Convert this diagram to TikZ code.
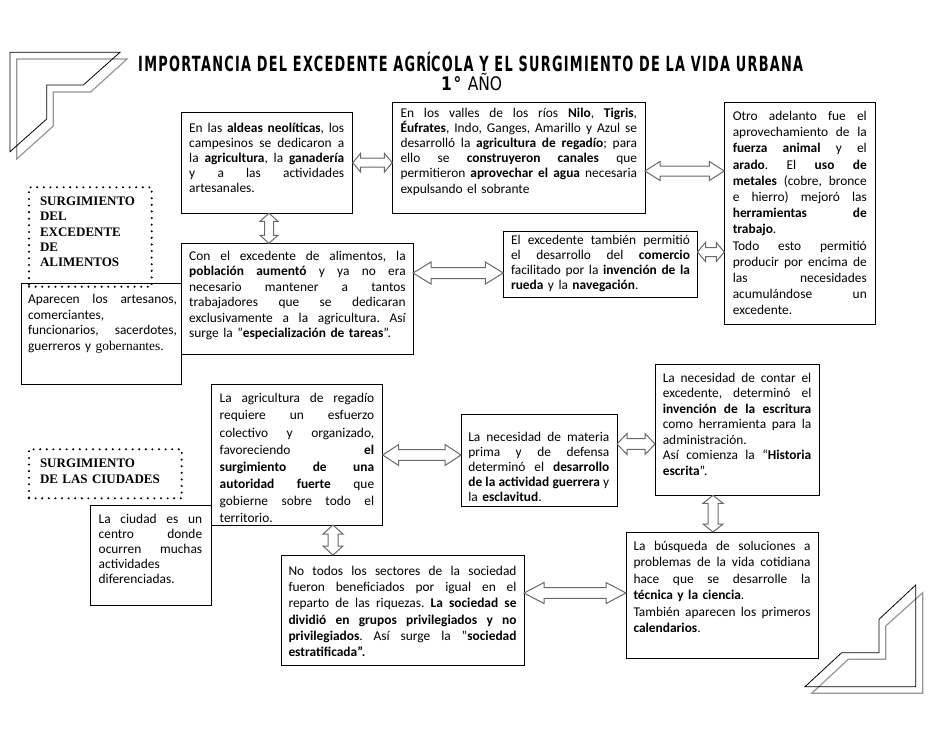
\documentclass[tikz,border=0pt]{standalone}
\usepackage{fontspec}
\setmainfont{Carlito}
\newfontfamily\tnrfont{Liberation Serif}
\newfontfamily\ttlfont[LetterSpace=10]{DejaVu Sans}
\usetikzlibrary{calc}
\frenchspacing
\definecolor{arrgray}{RGB}{105,105,105}
\definecolor{cornergray}{RGB}{150,150,150}
\newlength\jlw
\newcommand\jline[1]{\leavevmode\hbox to \jlw{\spaceskip=\fontdimen2\font plus 1fil minus .08em\relax #1}\\}
\tikzset{
  box/.style={draw, line width=1pt, inner sep=0pt, outer sep=0pt, fill=white, anchor=north west},
  dotbox/.style={draw, line width=2.3pt, dash pattern=on 0pt off 6.6pt, line cap=round, inner sep=0pt, outer sep=0pt, anchor=north west},
  txt/.style={inner sep=0pt, outer sep=0pt, anchor=base west, text width=#1, execute at begin node={\setlength{\jlw}{#1}}},
  captxt/.style={inner sep=0pt, outer sep=0pt, anchor=base west, text width=130pt},
  dbl/.style n args={3}{draw=arrgray, line width=1pt, fill=white, line join=miter, to path={
    -- ($(\tikztostart)!#1!(\tikztotarget)!#2!90:(\tikztotarget)$)
    -- ($(\tikztostart)!#1!(\tikztotarget)!#3!90:(\tikztotarget)$)
    -- ($(\tikztotarget)!#1!(\tikztostart)!#3!-90:(\tikztostart)$)
    -- ($(\tikztotarget)!#1!(\tikztostart)!#2!-90:(\tikztostart)$)
    -- (\tikztotarget)
    -- ($(\tikztotarget)!#1!(\tikztostart)!#2!90:(\tikztostart)$)
    -- ($(\tikztotarget)!#1!(\tikztostart)!#3!90:(\tikztostart)$)
    -- ($(\tikztostart)!#1!(\tikztotarget)!#3!-90:(\tikztotarget)$)
    -- ($(\tikztostart)!#1!(\tikztotarget)!#2!-90:(\tikztotarget)$)
    -- cycle}},
  corner/.style={draw, line width=0.8pt},
  corner2/.style={draw=cornergray, line width=1.2pt}
}
\begin{document}
\begin{tikzpicture}[x=1pt,y=-1pt]
\useasboundingbox (0,0) rectangle (942,728);
\fill[white] (0,0) rectangle (942,728);

% corner decorations
\draw[corner2] (16.7,59) -- (127,59) -- (90.7,92) -- (53.3,92) -- (53.3,126) -- (16.7,159) -- cycle;
\draw[corner] (10,52.3) -- (120,52.3) -- (83.3,85) -- (46.7,85) -- (46.7,119) -- (10,151.7) -- cycle;
\draw[corner2] (922.7,592.7) -- (885.7,626) -- (885.7,659.3) -- (848.3,659.3) -- (811.7,693.3) -- (922.7,693.3) -- cycle;
\draw[corner] (915.7,585) -- (879,619.3) -- (879,652.7) -- (841.7,652.7) -- (805,686.7) -- (915.7,686.7) -- cycle;

% title
\node[inner sep=0pt, anchor=base west] (title) at (138,71) {\resizebox{665pt}{15.5pt}{\ttlfont\bfseries IMPORTANCIA DEL EXCEDENTE AGR\smash{Í}COLA Y EL SURGIMIENTO DE LA VIDA URBANA}};
\node[inner sep=0pt, anchor=base west] (year) at (441,90) {\resizebox{61pt}{14pt}{\ttlfont{\bfseries 1°} A\smash{Ñ}O}};

% boxes
\node[box, minimum width=171pt, minimum height=100.6pt] (b1) at (181.7,112.7) {};
\node[box, minimum width=252.7pt, minimum height=111pt] (b2) at (392.3,102.3) {};
\node[box, minimum width=194.2pt, minimum height=66.5pt] (b3) at (503.3,231) {};
\node[box, minimum width=151.4pt, minimum height=221.3pt] (b4) at (724.3,102.7) {};
\node[box, minimum width=231.3pt, minimum height=110.7pt] (b5) at (181.7,243.3) {};
\node[box, minimum width=160.7pt, minimum height=100.7pt] (b6) at (21,283.3) {};
\node[box, minimum width=121pt, minimum height=100pt] (b8) at (90.7,505) {};
\node[box, minimum width=171pt, minimum height=141pt] (b7) at (211.7,384) {};
\node[box, minimum width=156pt, minimum height=92pt] (b9) at (461,414) {};
\node[box, minimum width=164.3pt, minimum height=131pt] (b10) at (655,364.3) {};
\node[box, minimum width=192pt, minimum height=126pt] (b11) at (626,532) {};
\node[box, minimum width=243pt, minimum height=110pt] (b12) at (281,555) {};

% dotted caption boxes
\node[dotbox, minimum width=122.7pt, minimum height=99.4pt] (d1) at (29,187.3) {};
\node[dotbox, minimum width=152.7pt, minimum height=49pt] (d2) at (29,449.3) {};
\node[captxt, font={\tnrfont\bfseries\fontsize{13}{15.4}\selectfont}] (d1t) at (40,205.3) {SURGIMIENTO\\DEL\\EXCEDENTE\\DE\\ALIMENTOS};
\node[captxt, font={\tnrfont\bfseries\fontsize{13}{16}\selectfont}] (d2t) at (40,467.6) {SURGIMIENTO\\DE LAS CIUDADES};

% texts
\node[txt=155pt, font=\fontsize{13.4}{15.2}\selectfont] (t1) at (189.2,132) {\jline{En las \textbf{aldeas neolíticas}, los}\jline{campesinos se dedicaron a}\jline{la \textbf{agricultura}, la \textbf{ganadería}}\jline{y a las actividades}artesanales.};
\node[txt=236.5pt, font=\fontsize{13.4}{15.1}\selectfont] (t2) at (400.5,117.5) {\jline{En los valles de los ríos \textbf{Nilo}, \textbf{Tigris},}\jline{\textbf{Éufrates}, Indo, Ganges, Amarillo y Azul se}\jline{desarrolló la \textbf{agricultura de regadío}; para}\jline{ello se \textbf{construyeron canales} que}\jline{permitieron \textbf{aprovechar el agua} necesaria}expulsando el sobrante};
\node[txt=179pt, font=\fontsize{13.4}{15.1}\selectfont] (t3) at (511,244.5) {\jline{El excedente también permitió}\jline{el desarrollo del \textbf{comercio}}\jline{facilitado por la \textbf{invención de la}}\textbf{rueda} y la \textbf{navegación}.};
\node[txt=134pt, font=\fontsize{13.4}{16.2}\selectfont] (t4) at (732.8,120.5) {\jline{Otro adelanto fue el}\jline{aprovechamiento de la}\jline{\textbf{fuerza animal} y el}\jline{\textbf{arado}. El \textbf{uso de}}\jline{\textbf{metales} (cobre, bronce}\jline{e hierro) mejoró las}\jline{\textbf{herramientas de}}\textbf{trabajo}.\\\jline{Todo esto permitió}\jline{producir por encima de}\jline{las necesidades}\jline{acumulándose un}excedente.};
\node[txt=216.5pt, font=\fontsize{13.4}{15.4}\selectfont] (t5) at (189.2,260.5) {\jline{Con el excedente de alimentos, la}\jline{\textbf{población aumentó} y ya no era}\jline{necesario mantener a tantos}\jline{trabajadores que se dedicaran}\jline{exclusivamente a la agricultura. Así}surge la "\textbf{especialización de tareas}".};
\node[txt=149pt, font=\fontsize{13.4}{15.4}\selectfont] (t6) at (28,303.8) {\jline{Aparecen los artesanos,}comerciantes,\\\jline{funcionarios, sacerdotes,}guerreros y {\tnrfont gobernantes.}};
\node[txt=154.5pt, font=\fontsize{13.4}{17.1}\selectfont] (t7) at (219.7,402.8) {\jline{La agricultura de regadío}\jline{requiere un esfuerzo}\jline{colectivo y organizado,}\jline{favoreciendo \textbf{el}}\jline{\textbf{surgimiento de una}}\jline{\textbf{autoridad fuerte} que}\jline{gobierne sobre todo el}territorio.};
\node[txt=103.5pt, font=\fontsize{13.4}{15}\selectfont] (t8) at (98.7,523.8) {\jline{La ciudad es un}\jline{centro donde}\jline{ocurren muchas}actividades\\diferenciadas.};
\node[txt=141pt, font=\fontsize{13.4}{15}\selectfont] (t9) at (468.3,441.2) {\jline{La necesidad de materia}\jline{prima y de defensa}\jline{determinó el \textbf{desarrollo}}\jline{\textbf{de la actividad guerrera} y}la \textbf{esclavitud}.};
\node[txt=148.5pt, font=\fontsize{13.4}{15.5}\selectfont] (t10) at (662.8,382.2) {\jline{La necesidad de contar el}\jline{excedente, determinó el}\jline{\textbf{invención de la escritura}}\jline{como herramienta para la}administración.\\\jline{Así comienza la “\textbf{Historia}}\textbf{escrita}".};
\node[txt=177pt, font=\fontsize{13.4}{16.4}\selectfont] (t11) at (633.5,550.4) {\jline{La búsqueda de soluciones a}\jline{problemas de la vida cotidiana}\jline{hace que se desarrolle la}\textbf{técnica y la ciencia}.\\\jline{También aparecen los primeros}\textbf{calendarios}.};
\node[txt=228pt, font=\fontsize{13.4}{16.2}\selectfont] (t12) at (288.5,575.5) {\jline{No todos los sectores de la sociedad}\jline{fueron beneficiados por igual en el}\jline{reparto de las riquezas. \textbf{La sociedad se}}\jline{\textbf{dividió en grupos privilegiados y no}}\jline{\textbf{privilegiados}. Así surge la "\textbf{sociedad}}\textbf{estratificada".}};

% block arrows
\draw[dbl={8pt}{9.5pt}{4.5pt}] (b1.east |- 0,162.7) to (b2.west |- 0,162.7);
\draw[dbl={8pt}{9pt}{4.5pt}] (269,0 |- b1.south) to (269,0 |- b5.north);
\draw[dbl={18pt}{11pt}{5.5pt}] (b5.east |- 0,273) to (b3.west |- 0,273);
\draw[dbl={15pt}{9.5pt}{5pt}] (b2.east |- 0,171) to (b4.west |- 0,171);
\draw[dbl={8pt}{9.5pt}{4.5pt}] (b3.east |- 0,252) to (b4.west |- 0,252);
\draw[dbl={16pt}{10.5pt}{5.3pt}] (b7.east |- 0,455) to (b9.west |- 0,455);
\draw[dbl={10pt}{10.5pt}{5.3pt}] (b9.east |- 0,444) to (b10.west |- 0,444);
\draw[dbl={8pt}{10pt}{5pt}] (713,0 |- b10.south) to (713,0 |- b11.north);
\draw[dbl={9pt}{10pt}{5pt}] (333,0 |- b7.south) to (333,0 |- b12.north);
\draw[dbl={20pt}{10.5pt}{5.3pt}] (b12.east |- 0,593) to (b11.west |- 0,593);
\end{tikzpicture}
\end{document}
